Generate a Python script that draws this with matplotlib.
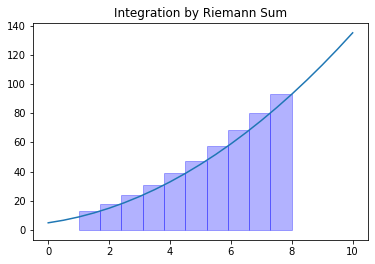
import matplotlib
matplotlib.use("Agg")
import matplotlib.pyplot as plt

# curve
curve_x = [0, 0.5, 1, 1.5, 2, 2.5, 3, 3.5, 4, 4.5, 5, 5.5, 6, 6.5, 7, 7.5, 8, 8.5, 9, 9.5, 10]
curve_y = [5, 6.75, 9, 11.75, 15, 18.75, 23, 27.75, 33, 38.75, 45, 51.75, 59, 66.75,
           75, 83.75, 93, 102.75, 113, 123.75, 135]

# rectangles (left edge, height)
bar_left = [1.0, 1.7, 2.4, 3.1, 3.8, 4.5, 5.2, 5.9, 6.6, 7.3]
bar_height = [13.0, 18.0, 23.9, 30.8, 38.8, 47.6, 57.5, 68.4, 80.2, 93.0]
bar_width = 0.7

fig = plt.figure(figsize=(375 / 72, 264 / 72), dpi=72)
ax = fig.add_axes([0.088, 0.091, 0.893, 0.822])

ax.plot(curve_x, curve_y)
ax.bar(bar_left, bar_height, width=bar_width, align='edge', alpha=0.3, edgecolor='b', color='b')
ax.set_ylim(-6.75, 141.75)
ax.set_title('Integration by Riemann Sum')

fig.savefig('out.png', dpi=72)
